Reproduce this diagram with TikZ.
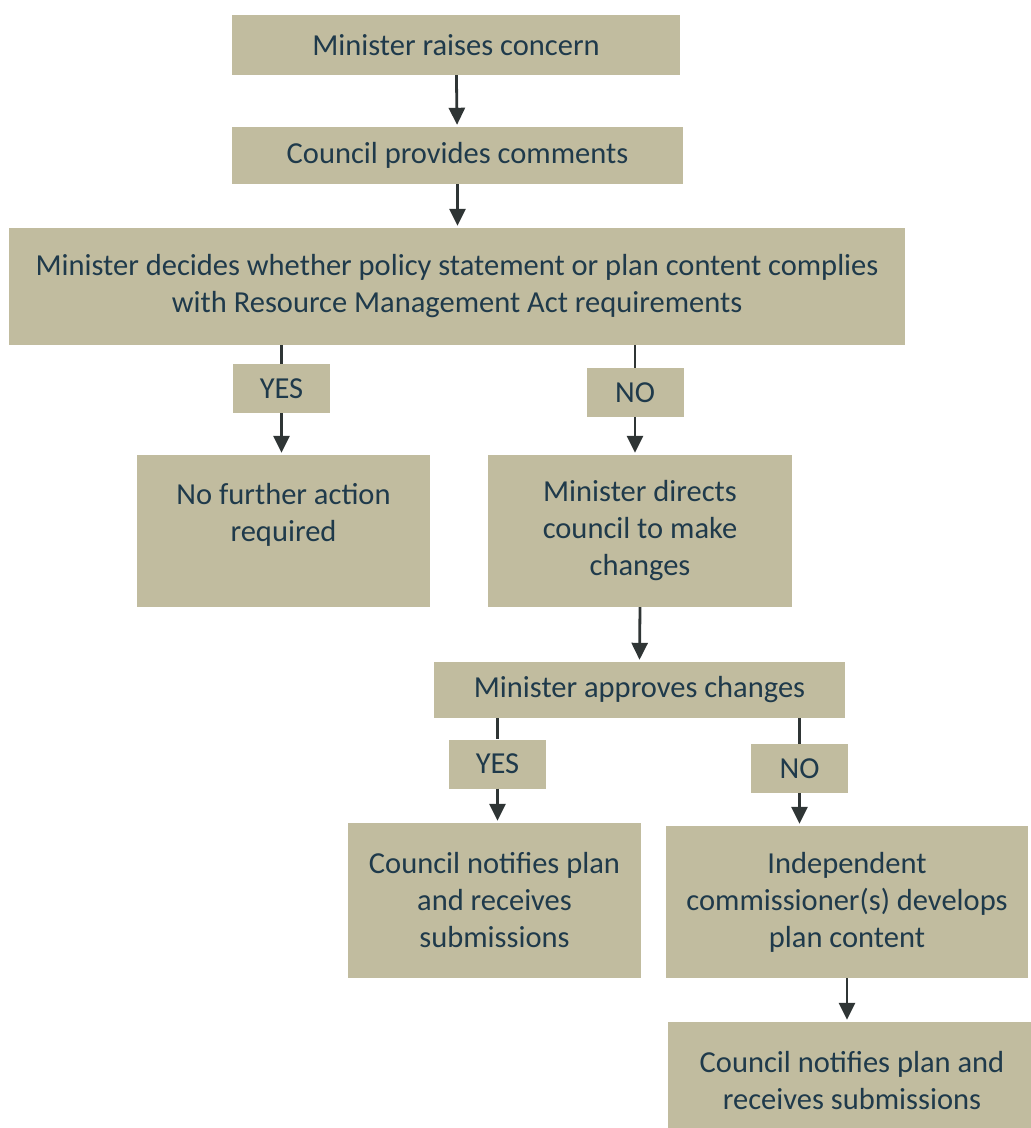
\documentclass[tikz,border=0pt]{standalone}
\usepackage{fontspec}
\setmainfont{Carlito}
\usetikzlibrary{arrows.meta,positioning}
\definecolor{boxtan}{HTML}{C1BC9F}
\definecolor{boxtext}{HTML}{1F3A4B}
\definecolor{arrowgrey}{HTML}{2F3535}

\begin{document}
\begin{tikzpicture}[x=1pt,y=-1pt, >={Triangle[width=16pt,length=17pt]}]
	\tikzstyle{every node}=[font=\fontsize{30.5}{37}\selectfont, text=boxtext]
	\tikzstyle{stage}=[rectangle, fill=boxtan, inner sep=0pt, align=center]
	\tikzstyle{answer}=[stage, minimum width=97pt, minimum height=49pt]
	\tikzstyle{link}=[draw=arrowgrey, line width=2.8pt]
	\tikzstyle{flow}=[link, ->, shorten >=2pt]
	
	\useasboundingbox (0,0) rectangle (1031,1128);
	\clip (0,0) rectangle (1031,1128);
	
	\node[stage, minimum width=448pt, minimum height=60pt]  (raise)    at (456,45)    {Minister raises concern};
	\node[stage, minimum width=451pt, minimum height=57pt]  (comments) at (457.5,155.5) {Council provides comments};
	\node[stage, minimum width=896pt, minimum height=117pt] (decide)   at (457,286.5) {Minister decides whether policy statement or plan content complies\\with Resource Management Act requirements};
	\node[answer]                                           (yes1)     at (281.5,388.5) {YES};
	\node[answer]                                           (no1)      at (635,392.5) {NO};
	\node[stage, minimum width=293pt, minimum height=152pt] (noaction) at (283.5,531)  {No further action\\required\\\phantom{x}};
	\node[stage, minimum width=304pt, minimum height=152pt] (directs)  at (640,531)    {Minister directs\\council to make\\changes};
	\node[stage, minimum width=411pt, minimum height=56pt]  (approves) at (639.5,690)  {Minister approves changes};
	\node[answer]                                           (yes2)     at (497.5,764)  {YES};
	\node[answer]                                           (no2)      at (799.5,768.5) {NO};
	\node[stage, minimum width=293pt, minimum height=155pt] (notify)   at (494.5,900.5) {Council notifies plan\\and receives\\submissions};
	\node[stage, minimum width=362pt, minimum height=152pt] (commish)  at (847,902)    {Independent\\commissioner(s) develops\\plan content};
	\node[stage, minimum width=368pt, minimum height=118pt] (notify2)  at (852,1081)   {Council notifies plan and\\receives submissions};
	
	\draw[flow] (raise) -- (comments);
	\draw[flow] (comments.south) -- (decide.north -| comments.south);
	\draw[link] (yes1 |- decide.south) -- (yes1.north);
	\draw[link] (no1 |- decide.south) -- (no1.north);
	\draw[flow] (yes1.south) -- (yes1 |- noaction.north);
	\draw[flow] (no1.south) -- (no1 |- directs.north);
	\draw[flow] (directs.south) -- (approves.north);
	\draw[link] (yes2 |- approves.south) -- (yes2.north);
	\draw[link] (no2 |- approves.south) -- (no2.north);
	\draw[flow] (yes2.south) -- (yes2 |- notify.north);
	\draw[flow] (no2.south) -- (no2 |- commish.north);
	\draw[flow] (commish.south) -- (commish.south |- notify2.north);
\end{tikzpicture}
\end{document}
